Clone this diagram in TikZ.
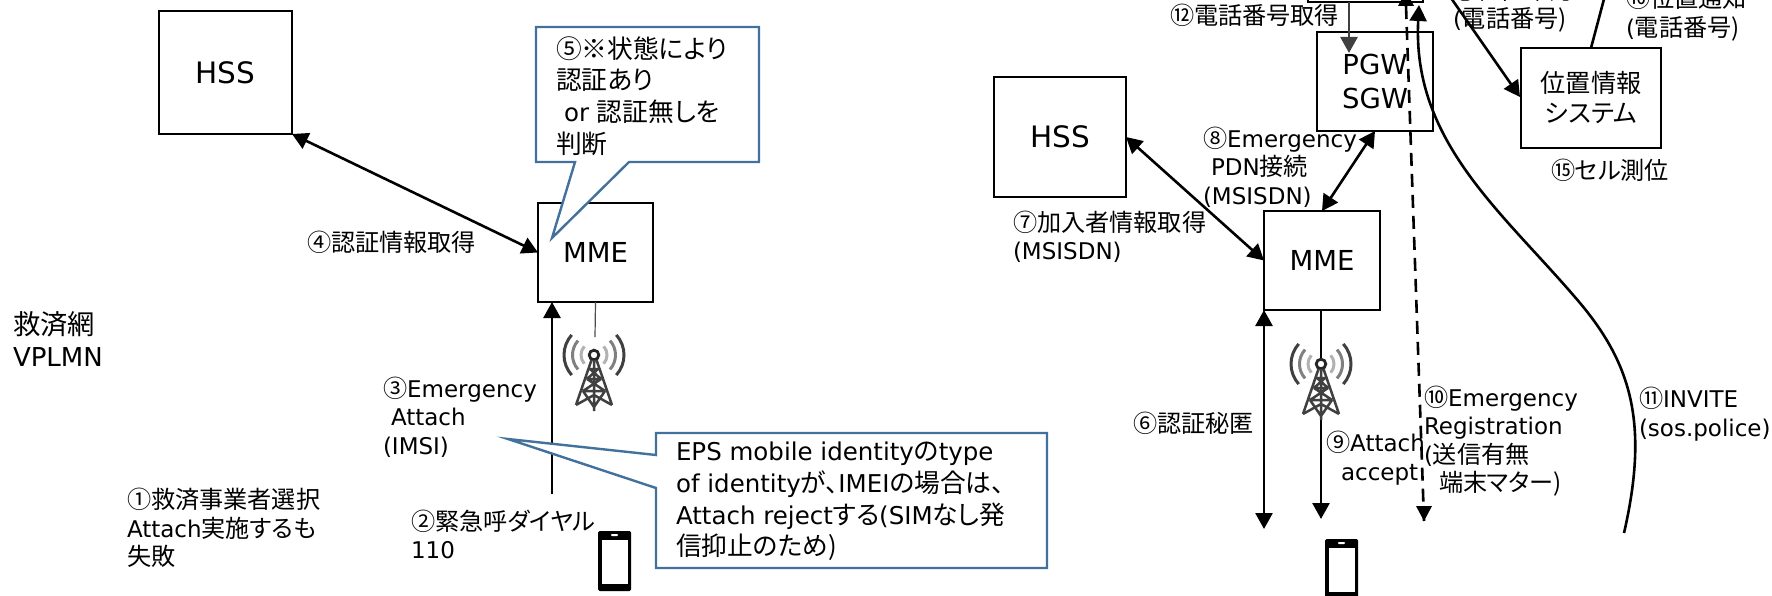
\documentclass[tikz,border=0pt]{standalone}
\usepackage{fontspec}
\setmainfont{DejaVu Sans}
\newfontfamily\jpf[RawFeature=+palt]{Noto Sans CJK JP}
\newcommand{\J}[1]{{\jpf\addfontfeature{Scale=1.05}#1}}
\usetikzlibrary{arrows.meta}
\definecolor{callblue}{HTML}{41719C}
\definecolor{graya}{HTML}{404040}
\tikzset{
  boxn/.style={draw=black,line width=2.8pt,fill=white,inner sep=0pt,outer sep=0pt,font=\fontsize{27.5}{34}\selectfont,align=center},
  lab/.style={inner sep=0pt,outer sep=0pt,anchor=west,align=left,font=\fontsize{23}{28.5}\selectfont},
  lab25/.style={inner sep=0pt,outer sep=0pt,anchor=west,align=left,font=\fontsize{24.5}{31.8}\selectfont},
  lab26/.style={inner sep=0pt,outer sep=0pt,anchor=west,align=left,font=\fontsize{26}{32}\selectfont},
  tipped/.style={line width=2.6pt,>={Triangle[length=16pt,width=17pt]}},
  callout/.style={draw=callblue,line width=2.4pt,fill=white,line join=miter},
  towerpic/.pic={
    \foreach \r/\c in {30/graya,21.5/gray,13/black!30}{
      \draw[\c,line width=3pt] (-42:\r) arc (-42:42:\r);
      \draw[\c,line width=3pt] (138:\r) arc (138:222:\r);
    }
    \draw[black!85,line width=2.8pt,fill=white] (0,0) circle (4.8);
    \draw[graya,line width=2.5pt,line join=round]
      (-2.5,5) -- (-18,50) (2.5,5) -- (18,50) (0,5) -- (0,56)
      (-7,24) -- (7,24) (-11,36) -- (11,36) (-7,24) -- (11,36) (7,24) -- (-11,36)
      (-11,36) -- (0,52) -- (11,36) (-18,50) -- (0,40) -- (18,50) (-4,14) -- (4,14) (-4,14) -- (7,24) (4,14) -- (-7,24);
  },
  phonepic/.pic={
    \fill[black,rounded corners=1.5pt] (0,0) rectangle (33,60);
    \fill[white] (3.5,8.5) rectangle (29.5,52.5);
    \fill[white,rounded corners=0.8pt] (13,3) rectangle (20,5);
  }
}
\begin{document}
\begin{tikzpicture}[x=1pt,y=-1pt]
\useasboundingbox (0,0) rectangle (1772,596);
\clip (0,0) rectangle (1772,596);
% left side
\node[boxn,minimum width=133pt,minimum height=123pt,font=\fontsize{29.5}{34}\selectfont] (hssL) at (225.5,72.5) {HSS};
\node[boxn,minimum width=115pt,minimum height=99pt] (mmeL) at (595.5,252.5) {MME};
\draw[tipped,<->] (hssL.south east) -- (mmeL.west);
\coordinate (dialL) at (552,494);
\draw[tipped,->] (dialL) -- (dialL |- mmeL.south);
\coordinate (antL) at (595,337);
\draw[line width=1.2pt,black!70] (mmeL.south) -- (antL);
\pic at (594,355) {towerpic};
\pic at (598,531) {phonepic};
\node[lab] (l4) at (307,242) {\J{④認証情報取得}};
\node[lab26] (lv) at (13,339) {\J{救済網}\\VPLMN};
\node[lab] (l1) at (127,528) {\J{①救済事業者選択}\\Attach\J{実施するも}\\\J{失敗}};
\node[lab] (l3) at (383,417) {\J{③}Emergency\\\hspace*{8pt}Attach\\(IMSI)};
\node[lab] (l2) at (411,534.5) {\J{②緊急呼ダイヤル}\\110};
% callouts left
\draw[callout] (536,27) -- (759,27) -- (759,162) -- (629,162) -- (552,238) -- (575,162) -- (536,162) -- cycle;
\node[lab25] (c5) at (556,96) {\J{⑤※状態により}\\\J{認証あり}\\\hspace*{8pt}or \J{認証無しを}\\\J{判断}};
\draw[callout] (656,433) -- (1047,433) -- (1047,568) -- (656,568) -- (656,488) -- (508,439) -- (656,455) -- cycle;
\node[lab25] (c3) at (676,501.5) {EPS mobile identity\J{の}type\\of identity\J{が、}IMEI\J{の場合は、}\\Attach reject\J{する}(SIM\J{なし発}\\\J{信抑止のため)}};
% right side
\node[boxn,minimum width=132pt,minimum height=120pt,font=\fontsize{29.5}{34}\selectfont] (hssR) at (1060,137) {HSS};
\node[boxn,minimum width=116pt,minimum height=99pt] (mmeR) at (1322,260.5) {MME};
\node[boxn,minimum width=116pt,minimum height=99pt] (pgw) at (1375,81.5) {PGW\\SGW};
\node[boxn,minimum width=140pt,minimum height=100pt,font=\fontsize{24}{30}\selectfont] (loc) at (1591,98) {\J{位置情報}\\\J{システム}};
\node[draw=black,line width=2.8pt,inner sep=0pt,outer sep=0pt,minimum width=115pt,minimum height=40pt] (top) at (1365.5,-18) {};
\draw[tipped,<->] (hssR.east) -- (mmeR.west);
\draw[tipped,<->] (mmeR.north) -- (pgw.south);
\draw[tipped,->,graya] (top.south -| 1349,0) -- (1349,53);
\coordinate (locTop) at (1604,-1);
\draw[line width=2.6pt] (loc.north) -- (locTop);
\coordinate (locFrom) at (1451,-2);
\coordinate (locTip) at (1520,97);
\draw[tipped,->] (locFrom) -- (locTip);
\coordinate (dashTop) at (1406,6);
\coordinate (dashBot) at (1424,521);
\draw[line width=2.6pt,dashed,dash pattern=on 13pt off 8pt] (dashTop) -- (dashBot);
\fill (1424,521) -- (1416,506) -- (1432,506) -- cycle;
\fill (1406,-9) -- (1398,6) -- (1414,6) -- cycle;
\coordinate (invA) at (1624,533);
\coordinate (invM) at (1574,296);
\coordinate (invT) at (1419,5);
\draw[tipped,->] (invA) .. controls (1650,420) and (1630,360) .. (invM) .. controls (1500,210) and (1412,140) .. (invT);
\coordinate (d6a) at (1264,529);
\draw[tipped,<->] (d6a) -- (d6a |- mmeR.south);
\coordinate (d9b) at (1321,519);
\draw[tipped,->] (mmeR.south -| d9b) -- (d9b);
\pic at (1321,364) {towerpic};
\pic at (1325,539) {phonepic};
\node[lab] (l12) at (1170,15) {\J{⑫電話番号取得}};
\node[lab] (l8) at (1203,167) {\J{⑧}Emergency\\\hspace*{8pt}PDN\J{接続}\\(MSISDN)};
\node[lab] (l7) at (1013,237) {\J{⑦加入者情報取得}\\(MSISDN)};
\node[lab] (l6) at (1133,423) {\J{⑥認証秘匿}};
\node[lab] (l9) at (1326,458) {\J{⑨}Attach\\\hspace*{15pt}accept};
\node[lab] (l10) at (1424,441) {\J{⑩}Emergency\\Registration\\(\J{送信有無}\\\hspace*{15pt}\J{端末マター)}};
\node[lab] (l11) at (1639,414) {\J{⑪}INVITE\\(sos.police)};
\node[lab] (l15) at (1551,170) {\J{⑮セル測位}};
\node[lab] (l14) at (1453,5.5) {\J{⑬位置確認}\\(\J{電話番号)}};
\node[lab] (l16) at (1626,14) {\J{⑯位置通知}\\(\J{電話番号)}};
\end{tikzpicture}
\end{document}
